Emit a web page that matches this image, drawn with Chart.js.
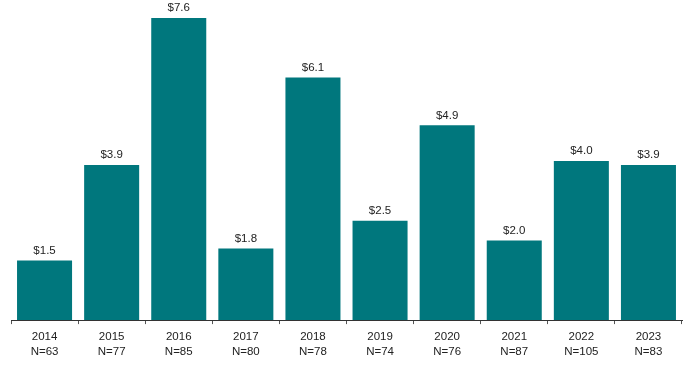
<!DOCTYPE html>
<html>
<head>
<meta charset="utf-8">
<script src="https://cdn.jsdelivr.net/npm/chart.js@4"></script>
<style>
  html, body { margin: 0; padding: 0; background: #fff; }
  #wrap { width: 698px; height: 366px; }
</style>
</head>
<body>
<div id="wrap"><canvas id="chart"></canvas></div>
<script>
const years = ['2014', '2015', '2016', '2017', '2018', '2019', '2020', '2021', '2022', '2023'];
const counts = ['N=63', 'N=77', 'N=85', 'N=80', 'N=78', 'N=74', 'N=76', 'N=87', 'N=105', 'N=83'];
const values = [1.5, 3.9, 7.6, 1.8, 6.1, 2.5, 4.9, 2.0, 4.0, 3.9];

// value labels above each bar
const barLabels = {
    id: 'barLabels',
    afterDatasetsDraw(chart) {
        const ctx = chart.ctx;
        const meta = chart.getDatasetMeta(0);
        ctx.save();
        ctx.font = '11.5px "Liberation Sans", Arial, sans-serif';
        ctx.fillStyle = '#222';
        ctx.textAlign = 'center';
        ctx.textBaseline = 'bottom';
        meta.data.forEach((bar, i) => {
            ctx.fillText('$' + values[i].toFixed(1), bar.x, bar.y - 4);
        });
        ctx.restore();
    }
};

const chart = new Chart(document.getElementById('chart'), {
    type: 'bar',
    data: {
        labels: years.map((y, i) => [y, counts[i]]),
        datasets: [{
            data: values,
            backgroundColor: '#00777D',
            barPercentage: 0.82,
            categoryPercentage: 1.0
        }]
    },
    options: {
        responsive: true,
        maintainAspectRatio: false,
        animation: false,
        layout: { padding: { left: 11, right: 16, top: 2, bottom: 2 } },
        plugins: { legend: { display: false }, tooltip: { enabled: false } },
        scales: {
            x: {
                grid: { display: true, drawOnChartArea: false, tickLength: 4, color: '#555', offset: true },
                border: { display: true, color: '#333', width: 1 },
                ticks: {
                    color: '#222',
                    padding: 5,
                    maxRotation: 0,
                    font: { family: '"Liberation Sans", Arial, sans-serif', size: 11.5, lineHeight: 1.3 }
                }
            },
            y: { display: false, min: 0, max: 8 }
        }
    },
    plugins: [barLabels]
});
</script>
</body>
</html>
